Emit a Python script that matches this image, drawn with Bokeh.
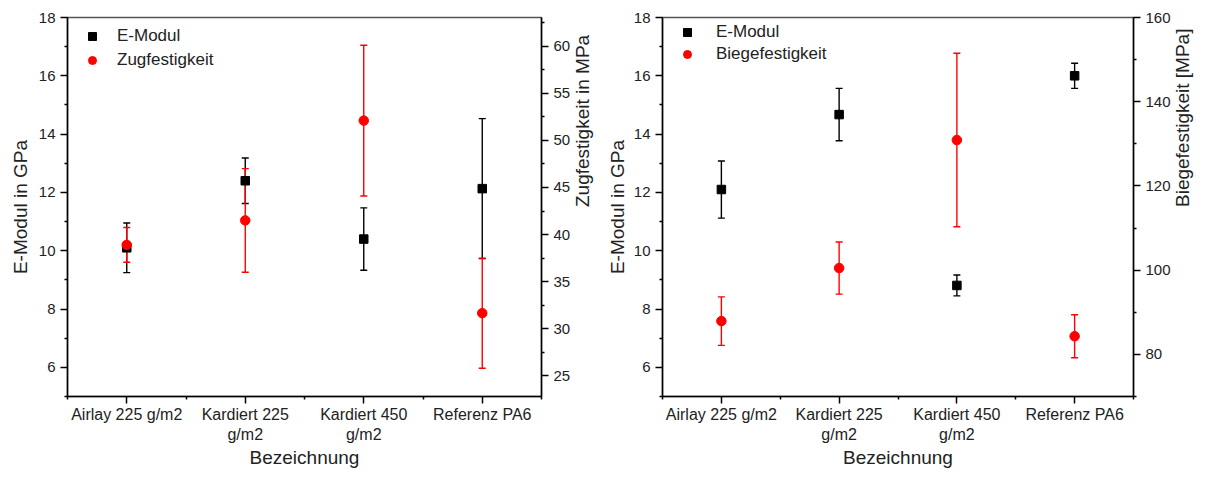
import math
import numpy as np
from bokeh.plotting import figure
from bokeh.models import (Range1d, LinearAxis, FixedTicker, Whisker, TeeHead,
                          ColumnDataSource, Legend, LegendItem)
from bokeh.layouts import row
from bokeh.embed import file_html
from bokeh.resources import INLINE

# ---------------- data ----------------
categories = ["Airlay 225 g/m2", "Kardiert 225\ng/m2", "Kardiert 450\ng/m2", "Referenz PA6"]
x_title = "Bezeichnung"

# left chart: E-Modul (GPa) and Zugfestigkeit (MPa)
emod_l = [10.1, 12.4, 10.4, 12.13]
emod_l_err = [0.85, 0.78, 1.07, 2.4]
zug = [38.9, 41.5, 52.1, 31.65]
zug_err = [1.85, 5.5, 8.0, 5.85]

# right chart: E-Modul (GPa) and Biegefestigkeit (MPa)
emod_r = [12.1, 14.67, 8.81, 16.0]
emod_r_err = [0.98, 0.9, 0.36, 0.43]
bieg = [87.9, 100.5, 130.9, 84.3]
bieg_err = [5.75, 6.2, 20.6, 5.1]

FONT = "Liberation Sans"
TXT = "#222222"


def style_axis(ax, label_size="15px"):
    ax.axis_line_color = "black"
    ax.axis_line_width = 1.5
    ax.major_tick_out = 7
    ax.major_tick_in = 0
    ax.minor_tick_out = 3
    ax.minor_tick_in = 0
    ax.major_tick_line_width = 1.5
    ax.minor_tick_line_width = 1.5
    ax.major_tick_line_color = "black"
    ax.minor_tick_line_color = "black"
    ax.major_label_text_font = FONT
    ax.major_label_text_font_size = label_size
    ax.major_label_text_color = TXT
    ax.axis_label_text_font = FONT
    ax.axis_label_text_font_size = "19px"
    ax.axis_label_text_font_style = "normal"
    ax.axis_label_text_color = TXT


def make_chart(width, height, borders, e_vals, e_err, s_vals, s_err, s_name,
               right_label, rrange, rticks, rminor, l_standoff, r_standoff,
               leg_pad, leg_gw, leg_standoff, leg_spacing):
    bl, br, bt, bb = borders
    n = len(categories)
    xs = np.arange(1, n + 1)
    p = figure(width=width, height=height, output_backend="svg", toolbar_location=None,
               x_range=Range1d(0.5, n + 0.5), y_range=Range1d(5, 18),
               min_border_left=bl, min_border_right=br, min_border_top=bt, min_border_bottom=bb,
               background_fill_color="white", border_fill_color="white")
    p.extra_y_ranges = {"r": Range1d(*rrange)}
    p.xgrid.visible = False
    p.ygrid.visible = False
    p.outline_line_color = "#555555"
    p.outline_line_width = 1.5

    # bottom axis
    xa = p.xaxis[0]
    xa.ticker = FixedTicker(ticks=list(xs), minor_ticks=list(np.arange(0.5, n + 1, 1.0)))
    xa.major_label_overrides = {int(i + 1): c for i, c in enumerate(categories)}
    xa.axis_label = x_title
    style_axis(xa, "16px")
    xa.major_label_standoff = 2
    xa.axis_label_standoff = 1

    # left axis
    ya = p.yaxis[0]
    ya.ticker = FixedTicker(ticks=list(range(6, 19, 2)), minor_ticks=list(range(5, 18, 2)))
    ya.axis_label = "E-Modul in GPa"
    style_axis(ya)
    ya.major_label_standoff = 5
    ya.axis_label_standoff = l_standoff

    # right axis, label reading bottom-to-top
    ra = LinearAxis(y_range_name="r", ticker=FixedTicker(ticks=rticks, minor_ticks=rminor),
                    axis_label=right_label)
    style_axis(ra)
    ra.major_label_standoff = 5
    ra.axis_label_standoff = r_standoff
    ra.axis_label_orientation = math.pi / 2
    p.add_layout(ra, "right")

    # E-Modul series
    e = np.array(e_vals)
    ee = np.array(e_err)
    src_e = ColumnDataSource(dict(x=xs, y=e, up=e + ee, lo=e - ee))
    p.add_layout(Whisker(base="x", upper="up", lower="lo", source=src_e,
                         line_color="black", line_width=1.4,
                         upper_head=TeeHead(size=7, line_color="black", line_width=1.4),
                         lower_head=TeeHead(size=7, line_color="black", line_width=1.4)))
    r_e = p.scatter("x", "y", source=src_e, marker="square", size=8.5,
                    fill_color="black", line_color="black")

    # strength series
    s = np.array(s_vals)
    se = np.array(s_err)
    src_s = ColumnDataSource(dict(x=xs, y=s, up=s + se, lo=s - se))
    p.add_layout(Whisker(base="x", upper="up", lower="lo", source=src_s, y_range_name="r",
                         line_color="red", line_width=1.4,
                         upper_head=TeeHead(size=7, line_color="red", line_width=1.4),
                         lower_head=TeeHead(size=7, line_color="red", line_width=1.4)))
    r_s = p.scatter("x", "y", source=src_s, y_range_name="r", marker="circle", size=9.5,
                    fill_color="red", line_color="red")

    leg = Legend(items=[LegendItem(label="E-Modul", renderers=[r_e]),
                        LegendItem(label=s_name, renderers=[r_s])],
                 location="top_left", margin=0, padding=leg_pad,
                 glyph_width=leg_gw, label_standoff=leg_standoff, spacing=leg_spacing,
                 border_line_alpha=0, background_fill_alpha=0,
                 label_text_font=FONT, label_text_font_size="17px", label_text_color=TXT)
    p.add_layout(leg)
    return p


p1 = make_chart(606, 479, (67, 59, 17, 79), emod_l, emod_l_err, zug, zug_err, "Zugfestigkeit",
                "Zugfestigkeit in MPa", (22.8, 63.05), [25, 30, 35, 40, 45, 50, 55, 60],
                [27.5, 32.5, 37.5, 42.5, 47.5, 52.5, 57.5, 62.5], 5, 9, 9, 32, 9, 4)
p2 = make_chart(606, 479, (62, 73, 17, 83), emod_r, emod_r_err, bieg, bieg_err, "Biegefestigkeit",
                "Biegefestigkeit [MPa]", (70, 160), [80, 100, 120, 140, 160],
                [70, 90, 110, 130, 150], 3, 9, 5, 40, 9, 2)
p2.margin = (0, 0, 0, -6)

layout = row(p1, p2)
open("out.html", "w").write(file_html(layout, INLINE))
